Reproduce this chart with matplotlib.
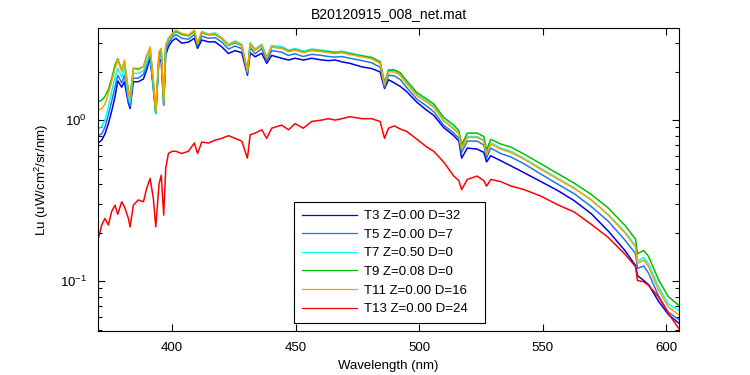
import math
import matplotlib
matplotlib.use("Agg")
import matplotlib.pyplot as plt
from matplotlib.ticker import FixedLocator, FuncFormatter, LogLocator, NullFormatter

plt.rcParams['font.family'] = ['Liberation Sans', 'DejaVu Sans']
plt.rcParams['mathtext.default'] = 'regular'

wavelength = [370.0, 371.5, 372.8, 374.2, 375.5, 376.9, 378.0, 379.6, 380.7, 382.3,
              383.0, 384.3, 386.3, 388.4, 389.7, 391.1, 392.4, 393.4, 394.7, 395.6,
              396.6, 397.4, 398.5, 400.0, 401.5, 403.9, 406.6, 409.0, 410.3, 412.0,
              414.7, 417.4, 420.1, 422.8, 425.5, 428.2, 430.5, 431.6, 433.6, 436.3,
              438.3, 440.3, 444.4, 447.1, 449.8, 453.1, 456.5, 460.6, 463.3, 466.0,
              468.7, 472.0, 476.8, 480.8, 484.2, 486.0, 487.6, 490.0, 492.3, 495.0,
              499.1, 503.1, 505.9, 509.9, 514.0, 516.1, 517.2, 519.5, 523.5, 526.2,
              527.3, 529.0, 533.0, 537.1, 542.5, 549.3, 556.1, 562.9, 569.7, 576.5,
              583.3, 587.6, 588.4, 590.9, 592.9, 596.9, 600.9, 605.0]

lu_t3 = [0.72, 0.75, 0.82, 0.95, 1.13, 1.40, 1.75, 1.60, 1.73, 1.27,
         1.18, 1.73, 1.73, 1.80, 2.05, 2.42, 1.57, 1.10, 2.42, 2.30,
         1.24, 2.53, 2.85, 3.10, 3.22, 3.00, 3.05, 3.22, 2.79, 3.14,
         3.06, 3.06, 2.85, 2.59, 2.70, 2.62, 1.90, 2.62, 2.47, 2.60,
         2.25, 2.52, 2.42, 2.36, 2.42, 2.36, 2.42, 2.36, 2.34, 2.36,
         2.30, 2.25, 2.14, 2.09, 1.99, 1.57, 1.78, 1.70, 1.62, 1.50,
         1.29, 1.15, 1.07, 0.90, 0.80, 0.74, 0.58, 0.67, 0.66, 0.63,
         0.55, 0.60, 0.56, 0.52, 0.471, 0.415, 0.365, 0.315, 0.262, 0.205,
         0.155, 0.125, 0.108, 0.101, 0.095, 0.075, 0.062, 0.055]

lu_t5 = [0.80, 0.82, 0.90, 1.08, 1.30, 1.60, 1.90, 1.70, 1.90, 1.32,
         1.22, 1.82, 1.82, 1.92, 2.20, 2.52, 1.60, 1.10, 2.48, 2.55,
         1.25, 2.70, 3.00, 3.25, 3.40, 3.22, 3.18, 3.40, 2.88, 3.32,
         3.22, 3.25, 3.05, 2.76, 2.88, 2.78, 1.95, 2.82, 2.58, 2.78,
         2.32, 2.70, 2.64, 2.52, 2.58, 2.48, 2.56, 2.52, 2.48, 2.46,
         2.48, 2.42, 2.34, 2.27, 2.13, 1.60, 1.90, 1.88, 1.79, 1.59,
         1.35, 1.22, 1.13, 0.93, 0.83, 0.77, 0.63, 0.74, 0.74, 0.70,
         0.58, 0.67, 0.62, 0.59, 0.535, 0.462, 0.400, 0.348, 0.290, 0.236,
         0.180, 0.148, 0.120, 0.124, 0.112, 0.081, 0.064, 0.058]

lu_t7 = [0.88, 0.91, 1.00, 1.20, 1.50, 1.85, 2.10, 1.85, 2.10, 1.40,
         1.28, 1.95, 1.95, 2.02, 2.30, 2.65, 1.65, 1.10, 2.55, 2.65,
         1.26, 2.82, 3.15, 3.40, 3.58, 3.45, 3.38, 3.60, 3.00, 3.55,
         3.42, 3.48, 3.25, 2.96, 3.10, 2.96, 2.02, 3.02, 2.76, 2.96,
         2.46, 2.90, 2.86, 2.72, 2.78, 2.68, 2.76, 2.72, 2.68, 2.65,
         2.68, 2.61, 2.52, 2.45, 2.30, 1.68, 2.03, 2.01, 1.92, 1.70,
         1.44, 1.31, 1.22, 1.00, 0.89, 0.83, 0.67, 0.79, 0.79, 0.75,
         0.62, 0.72, 0.67, 0.64, 0.578, 0.500, 0.435, 0.378, 0.318, 0.260,
         0.202, 0.166, 0.133, 0.140, 0.128, 0.092, 0.072, 0.066]

lu_t9 = [1.30, 1.33, 1.40, 1.55, 1.80, 2.20, 2.40, 2.05, 2.30, 1.52,
         1.38, 2.10, 2.08, 2.15, 2.50, 2.80, 1.75, 1.12, 2.62, 2.75,
         1.28, 2.88, 3.20, 3.40, 3.55, 3.40, 3.33, 3.55, 2.95, 3.48,
         3.38, 3.40, 3.20, 2.90, 3.02, 2.90, 1.98, 2.96, 2.72, 2.90,
         2.42, 2.84, 2.80, 2.68, 2.74, 2.64, 2.72, 2.68, 2.65, 2.62,
         2.64, 2.58, 2.50, 2.44, 2.30, 1.70, 2.05, 2.05, 1.97, 1.75,
         1.48, 1.35, 1.26, 1.04, 0.93, 0.86, 0.70, 0.83, 0.83, 0.79,
         0.65, 0.76, 0.71, 0.68, 0.615, 0.535, 0.465, 0.405, 0.345, 0.285,
         0.222, 0.182, 0.148, 0.155, 0.142, 0.102, 0.080, 0.071]

lu_t11 = [1.15, 1.18, 1.25, 1.45, 1.73, 2.09, 2.36, 2.00, 2.36, 1.50,
          1.36, 2.09, 2.05, 2.15, 2.45, 2.85, 1.73, 1.13, 2.66, 2.79,
          1.30, 2.92, 3.22, 3.45, 3.62, 3.45, 3.37, 3.62, 2.99, 3.53,
          3.40, 3.45, 3.22, 2.92, 3.06, 2.92, 2.00, 2.99, 2.72, 2.92,
          2.42, 2.85, 2.79, 2.66, 2.72, 2.62, 2.70, 2.66, 2.62, 2.59,
          2.62, 2.55, 2.47, 2.40, 2.25, 1.65, 2.00, 1.99, 1.90, 1.68,
          1.42, 1.29, 1.20, 0.99, 0.88, 0.82, 0.66, 0.78, 0.78, 0.74,
          0.61, 0.71, 0.66, 0.63, 0.571, 0.494, 0.430, 0.375, 0.320, 0.258,
          0.199, 0.163, 0.129, 0.135, 0.123, 0.088, 0.069, 0.062]

lu_t13 = [0.18, 0.223, 0.245, 0.223, 0.270, 0.296, 0.260, 0.311, 0.290, 0.245,
          0.217, 0.296, 0.319, 0.311, 0.376, 0.434, 0.326, 0.217, 0.400, 0.455,
          0.257, 0.500, 0.620, 0.640, 0.640, 0.620, 0.640, 0.720, 0.620, 0.730,
          0.720, 0.750, 0.770, 0.800, 0.770, 0.740, 0.580, 0.810, 0.830, 0.870,
          0.770, 0.890, 0.930, 0.870, 0.950, 0.890, 0.980, 1.000, 1.020, 1.000,
          1.020, 1.050, 1.020, 1.020, 0.980, 0.770, 0.890, 0.920, 0.880, 0.850,
          0.760, 0.680, 0.640, 0.550, 0.450, 0.420, 0.370, 0.428, 0.449, 0.420,
          0.389, 0.428, 0.415, 0.390, 0.370, 0.337, 0.298, 0.268, 0.225, 0.187,
          0.147, 0.123, 0.101, 0.099, 0.094, 0.080, 0.063, 0.051]

labels = ['T3 Z=0.00 D=32', 'T5 Z=0.00 D=7', 'T7 Z=0.50 D=0',
          'T9 Z=0.08 D=0', 'T11 Z=0.00 D=16', 'T13 Z=0.00 D=24']
series = [lu_t3, lu_t5, lu_t7, lu_t9, lu_t11, lu_t13]
colors = ['#0000e6', '#1e78e6', '#00ffff', '#00c000', '#ffa000', '#ff0000']

xticks = [400, 450, 500, 550, 600]
xlim = (370, 605.2)
ylim = (0.049, 3.73)

fig = plt.figure(figsize=(7.5, 3.75), dpi=100)
ax = fig.add_axes([98/750, 44/375, 581/750, 303/375])

for vals, lab, c in zip(series, labels, colors):
    ax.plot(wavelength, vals, color=c, lw=1.1, label=lab)

ax.set_yscale('log')
ax.set_xlim(*xlim)
ax.set_ylim(*ylim)
ax.xaxis.set_major_locator(FixedLocator(xticks))
ax.yaxis.set_major_locator(LogLocator(base=10, numticks=10))
ax.yaxis.set_minor_locator(LogLocator(base=10, subs=range(2, 10), numticks=10))
ax.yaxis.set_minor_formatter(NullFormatter())
ax.yaxis.set_major_formatter(FuncFormatter(lambda v, p: r'$10^{%d}$' % round(math.log10(v))))

fs = 9.5
ax.tick_params(which='both', direction='in', top=True, right=True, labelsize=fs, width=0.8)
ax.tick_params(which='major', length=5, pad=8)
ax.tick_params(which='minor', length=3)
for s in ax.spines.values():
    s.set_linewidth(0.8)

ax.set_title('B20120915_008_net.mat', fontsize=10, pad=7)
ax.set_xlabel('Wavelength (nm)', fontsize=fs, labelpad=4)
ax.set_ylabel(r'Lu (uW/cm$^2$/sr/nm)', fontsize=fs, labelpad=6)

leg = ax.legend(loc='lower left', bbox_to_anchor=(0.337, 0.026, 0.329, 0.406),
                mode='expand', borderaxespad=0, fontsize=fs, frameon=True,
                fancybox=False, framealpha=1, edgecolor='black',
                handlelength=4.2, handletextpad=0.55, labelspacing=0.48,
                borderpad=0.6)
leg.get_frame().set_linewidth(0.8)
for line in leg.get_lines():
    line.set_linewidth(0.9)

fig.savefig('out.png', dpi=100)
